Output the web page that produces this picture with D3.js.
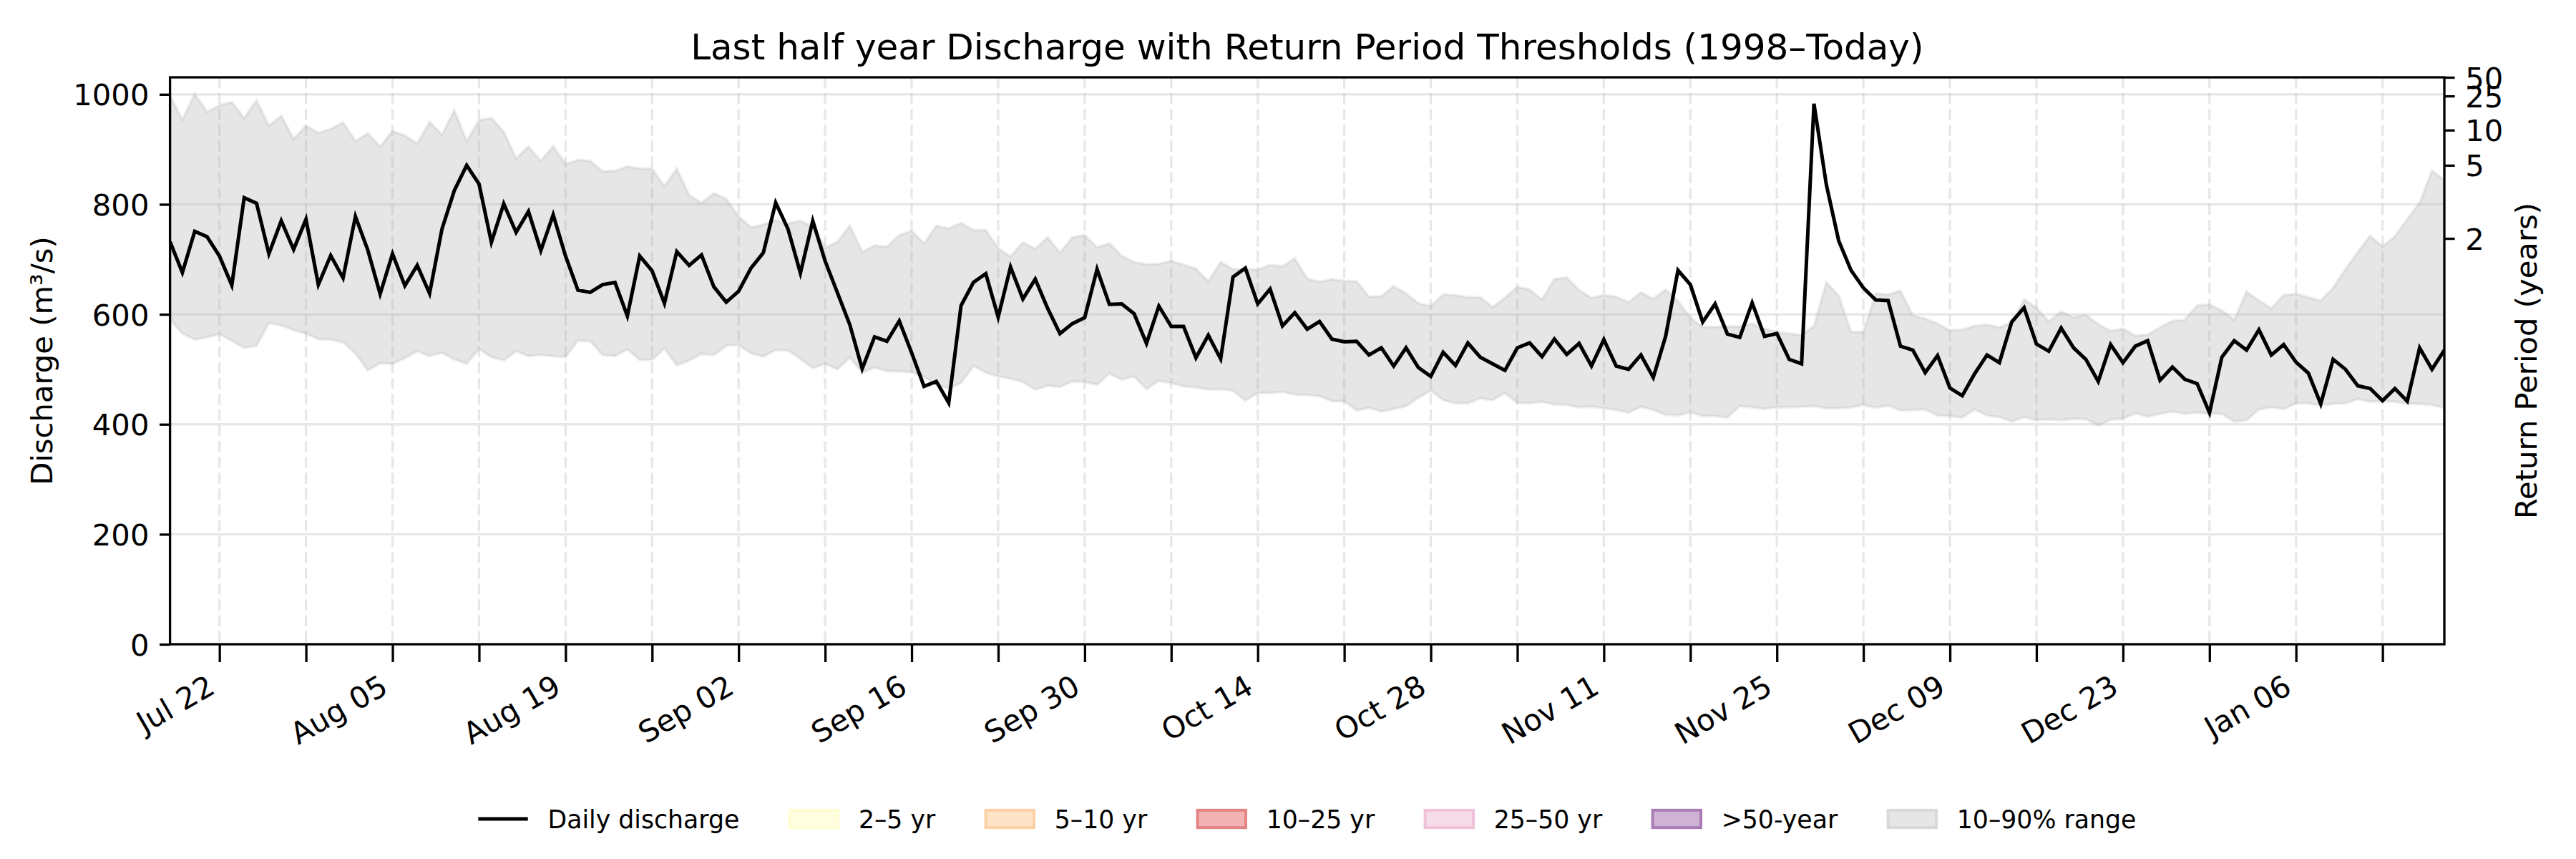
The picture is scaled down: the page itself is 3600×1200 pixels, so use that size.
<!DOCTYPE html>
<html>
<head>
<meta charset="utf-8">
<script src="https://cdn.jsdelivr.net/npm/d3@7"></script>
<style>
body { margin: 0; background: #fff; }
svg { display: block; font-family: "DejaVu Sans", sans-serif; }
</style>
</head>
<body>
<svg id="chart" width="3600" height="1200"></svg>
<script>
// daily values, first day Jul 18
var startDay = new Date(2024, 6, 18);

var discharge = [
  732, 676, 751, 741, 706, 653, 812, 802, 710, 770, 718, 773, 654, 707, 666, 778, 717, 637, 710, 652,
  689, 638, 755, 825, 871, 837, 731, 801, 749, 787, 716, 781, 706, 644, 640, 654, 658, 597, 706, 679,
  620, 714, 689, 708, 650, 622, 642, 684, 712, 803, 755, 675, 770, 697, 639, 581, 501, 559, 551, 588,
  530, 469, 478, 439, 616, 658, 674, 595, 686, 628, 664, 611, 565, 583, 594, 682, 618, 619, 601, 547,
  615, 578, 578, 521, 562, 519, 668, 684, 619, 646, 579, 603, 573, 587, 555, 550, 551, 526, 539, 506,
  539, 503, 487, 531, 507, 548, 522, 510, 498, 539, 548, 523, 555, 527, 547, 506, 554, 506, 500, 526,
  485, 560, 680, 654, 586, 619, 564, 558, 621, 560, 565, 518, 510, 983, 836, 734, 680, 648, 626, 625,
  542, 535, 494, 525, 466, 452, 492, 526, 512, 586, 612, 546, 533, 575, 539, 518, 478, 545, 512, 542,
  552, 480, 504, 482, 474, 421, 522, 552, 535, 572, 526, 545, 513, 493, 437, 518, 500, 470, 465, 443,
  465, 442, 539, 500, 535
];

var p90 = [
  998, 954, 1001, 968, 980, 986, 957, 989, 943, 961, 919, 943, 930, 937, 949, 915, 929, 905, 933, 925,
  911, 950, 927, 971, 915, 953, 957, 932, 884, 905, 879, 906, 873, 881, 879, 860, 861, 869, 865, 865,
  833, 865, 817, 803, 820, 810, 778, 758, 763, 771, 765, 770, 760, 721, 732, 761, 714, 725, 723, 744,
  752, 729, 761, 756, 766, 753, 753, 720, 705, 731, 719, 740, 712, 740, 744, 722, 729, 706, 695, 691,
  692, 697, 690, 683, 660, 695, 682, 682, 681, 690, 687, 702, 665, 659, 664, 661, 660, 632, 633, 651,
  638, 620, 615, 636, 635, 631, 631, 613, 630, 650, 645, 627, 664, 667, 644, 630, 635, 632, 622, 640,
  628, 645, 624, 594, 577, 577, 578, 578, 583, 574, 568, 565, 562, 579, 658, 634, 568, 568, 638, 636,
  643, 598, 592, 583, 571, 572, 579, 581, 576, 585, 627, 612, 587, 605, 595, 599, 582, 570, 574, 561,
  563, 576, 588, 590, 616, 618, 607, 590, 641, 625, 611, 635, 637, 631, 625, 648, 682, 713, 743, 723,
  742, 773, 803, 861, 845
];

var p10 = [
  590, 565, 554, 558, 564, 552, 539, 543, 584, 580, 571, 565, 555, 554, 549, 529, 498, 511, 510, 520,
  533, 524, 530, 518, 510, 537, 522, 516, 533, 524, 526, 524, 522, 552, 551, 526, 524, 536, 517, 517,
  538, 507, 516, 528, 526, 543, 544, 529, 523, 535, 534, 519, 502, 510, 500, 521, 494, 503, 497, 496,
  495, 486, 472, 465, 475, 506, 494, 487, 483, 477, 463, 470, 468, 478, 477, 472, 492, 481, 487, 464,
  479, 475, 469, 467, 463, 464, 461, 443, 457, 457, 459, 454, 453, 451, 442, 442, 425, 430, 423, 428,
  433, 448, 461, 444, 438, 438, 447, 444, 457, 439, 438, 441, 436, 435, 431, 432, 429, 426, 421, 432,
  426, 417, 416, 422, 415, 415, 412, 433, 431, 428, 431, 431, 432, 433, 429, 429, 431, 435, 430, 434,
  425, 426, 427, 416, 415, 412, 427, 416, 413, 405, 413, 407, 409, 407, 410, 409, 398, 408, 410, 420,
  414, 419, 423, 419, 421, 419, 419, 405, 407, 427, 431, 428, 438, 438, 434, 437, 438, 446, 441, 442,
  441, 437, 437, 435, 430
];

// return period thresholds (years -> discharge)
var rpYears = ["2", "5", "10", "25", "50"];
var rpDischarge = [738, 871, 935, 997, 1031];

var yTicks = [0, 200, 400, 600, 800, 1000];
var firstLabelDay = new Date(2024, 6, 22);

var legendLabels = ["Daily discharge", "2\u20135 yr", "5\u201310 yr", "10\u201325 yr", "25\u201350 yr", ">50-year", "10\u201390% range"];

var titleText = "Last half year Discharge with Return Period Thresholds (1998\u2013Today)";

// styling
var legendFill = [null, "#ffffe0", "#fde3c8", "#f1b3b4", "#f6dbe8", "#cfb3d4", "#e6e6e6"];
var legendEdge = [null, "#fefed2", "#fcd0a4", "#e58384", "#f0c2d9", "#aa7cb6", "#d9d9d9"];

var fs = 41.7, legendFs = 34.7;
var plotLeft = 237.6, plotRight = 3416, plotTop = 108, plotBottom = 900;

var svg = d3.select("#chart");
var days = discharge.map(function(v, i) { return d3.timeDay.offset(startDay, i); });

var x = d3.scaleTime().domain([days[0], days[days.length - 1]]).range([plotLeft, plotRight]);
var y = d3.scaleLinear().domain([0, rpDischarge[rpDischarge.length - 1]]).range([plotBottom, plotTop]);

svg.append("defs").append("clipPath").attr("id", "plotclip")
  .append("rect").attr("x", plotLeft).attr("y", plotTop)
  .attr("width", plotRight - plotLeft).attr("height", plotBottom - plotTop);

var plot = svg.append("g").attr("clip-path", "url(#plotclip)");

// 10-90% band
var band = d3.area()
  .x(function(d, i) { return x(days[i]); })
  .y0(function(d, i) { return y(p10[i]); })
  .y1(function(d, i) { return y(p90[i]); });
plot.append("path").datum(discharge).attr("d", band)
  .attr("fill", "rgba(128,128,128,0.2)")
  .attr("stroke", "rgba(128,128,128,0.13)").attr("stroke-width", 4);

// grid
var weekTicks = d3.timeDay.range(firstLabelDay, d3.timeDay.offset(days[days.length - 1], 1), 7);
plot.selectAll(".hgrid").data(yTicks).enter().append("line")
  .attr("x1", plotLeft).attr("x2", plotRight)
  .attr("y1", function(d) { return y(d); }).attr("y2", function(d) { return y(d); })
  .attr("stroke", "rgba(176,176,176,0.3)").attr("stroke-width", 3.3);
plot.selectAll(".vgrid").data(weekTicks).enter().append("line")
  .attr("x1", function(d) { return x(d); }).attr("x2", function(d) { return x(d); })
  .attr("y1", plotTop).attr("y2", plotBottom)
  .attr("stroke", "rgba(176,176,176,0.3)").attr("stroke-width", 3.3)
  .attr("stroke-dasharray", "15.4,6.7");

// discharge line
var line = d3.line()
  .x(function(d, i) { return x(days[i]); })
  .y(function(d) { return y(d); });
plot.append("path").datum(discharge).attr("d", line)
  .attr("fill", "none").attr("stroke", "#000").attr("stroke-width", 5)
  .attr("stroke-linejoin", "miter").attr("stroke-miterlimit", 4);

function styleAxis(g) {
  g.select(".domain").remove();
  g.attr("font-family", null).attr("font-size", null);
  g.selectAll(".tick line").attr("stroke", "#000").attr("stroke-width", 3.3);
  g.selectAll(".tick text").attr("fill", "#000").style("font-size", fs + "px");
}

// left axis
var gy = svg.append("g").attr("transform", "translate(" + plotLeft + ",0)")
  .call(d3.axisLeft(y).tickValues(yTicks).tickSize(14.6).tickPadding(14.6).tickFormat(d3.format("d")));
styleAxis(gy);
gy.selectAll(".tick text").attr("dy", "0.36em");

// right axis: return periods
var gr = svg.append("g").attr("transform", "translate(" + plotRight + ",0)")
  .call(d3.axisRight(y).tickValues(rpDischarge).tickSize(14.6).tickPadding(14.6)
    .tickFormat(function(d, i) { return rpYears[i]; }));
styleAxis(gr);
gr.selectAll(".tick text").attr("dy", "0.36em");

// bottom axis, weekly ticks, labels every second week
var asc = 0.76 * fs, txtH = 0.968 * fs;
var gx = svg.append("g").attr("transform", "translate(0," + plotBottom + ")")
  .call(d3.axisBottom(x).tickValues(weekTicks).tickSize(25).tickPadding(0)
    .tickFormat(function(d, i) { return i % 2 === 0 ? d3.timeFormat("%b %d")(d) : ""; }));
styleAxis(gx);
gx.selectAll(".tick text")
  .attr("x", 0).attr("y", asc).attr("dy", null)
  .attr("text-anchor", "end")
  .attr("transform", "translate(" + (-0.5 * txtH) + "," + (25 + 14.6) + ") rotate(-30)");

// spines
svg.append("rect").attr("x", plotLeft).attr("y", plotTop)
  .attr("width", plotRight - plotLeft).attr("height", plotBottom - plotTop)
  .attr("fill", "none").attr("stroke", "#000").attr("stroke-width", 3.3);

// title and axis labels
svg.append("text").attr("x", (plotLeft + plotRight) / 2).attr("y", 83)
  .attr("text-anchor", "middle").style("font-size", "50px").text(titleText);

svg.append("text").attr("transform", "translate(73," + ((plotTop + plotBottom) / 2) + ") rotate(-90)")
  .attr("text-anchor", "middle").style("font-size", fs + "px").text("Discharge (m\u00b3/s)");

svg.append("text").attr("transform", "translate(3545," + ((plotTop + plotBottom) / 2) + ") rotate(-90)")
  .attr("text-anchor", "middle").style("font-size", fs + "px").text("Return Period (years)");

// legend, one row centred under the axes
var handleLen = 2.0 * legendFs, handlePad = 0.8 * legendFs, colSpace = 2.0 * legendFs;
var legendY = 1144;
var lg = svg.append("g");
var items = legendLabels.map(function(label, i) {
  var g = lg.append("g");
  var t = g.append("text").attr("x", handleLen + handlePad).attr("y", legendY + 0.365 * legendFs)
    .style("font-size", legendFs + "px").text(label);
  if (i === 0) {
    g.append("line").attr("x1", 0).attr("x2", handleLen).attr("y1", legendY).attr("y2", legendY)
      .attr("stroke", "#000").attr("stroke-width", 5);
  } else {
    g.append("rect").attr("x", 1).attr("y", legendY - 0.35 * legendFs)
      .attr("width", handleLen - 2).attr("height", 0.7 * legendFs)
      .attr("fill", legendFill[i]).attr("stroke", legendEdge[i]).attr("stroke-width", 4);
  }
  return { g: g, w: handleLen + handlePad + t.node().getComputedTextLength() };
});
var total = d3.sum(items, function(d) { return d.w; }) + colSpace * (items.length - 1);
var cx = (plotLeft + plotRight) / 2 - total / 2;
items.forEach(function(it) {
  it.g.attr("transform", "translate(" + cx + ",0)");
  cx += it.w + colSpace;
});
</script>
</body>
</html>
